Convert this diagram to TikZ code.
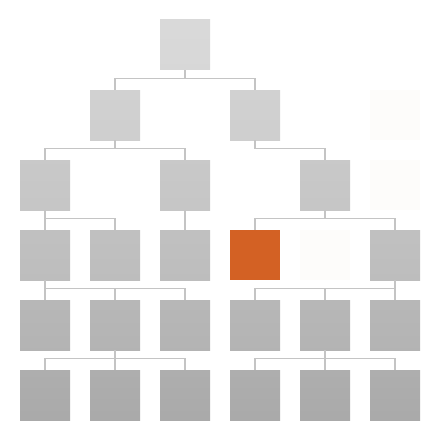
\documentclass[tikz,border=0pt]{standalone}
\usepackage{tikz}
\usetikzlibrary{positioning}
\definecolor{linegray}{RGB}{196,196,196}
\definecolor{grayA}{RGB}{214,214,214}
\definecolor{grayB}{RGB}{205,205,205}
\definecolor{grayC}{RGB}{196,196,196}
\definecolor{grayD}{RGB}{187,187,187}
\definecolor{grayE}{RGB}{177,177,177}
\definecolor{grayF}{RGB}{167,167,167}
\definecolor{ghostwhite}{RGB}{253,252,250}
\definecolor{pickorange}{RGB}{211,97,36}
\tikzset{
  box/.style={rectangle, minimum size=1.25cm, inner sep=0pt, draw=none},
  shadebox/.style={box, top color=#1!92, bottom color=#1!100!black!97},
  ghost/.style={box, fill=ghostwhite},
  link/.style={draw=linegray, line width=0.8pt}
}

\begin{document}
\begin{tikzpicture}
  \useasboundingbox (0,0) rectangle (11,-11);

  % Level 0
  \node[shadebox=grayA] (r0c2) at (4.625,-1.125) {};

  % Level 1
  \node[shadebox=grayB] (r1c1) at (2.875,-2.875) {};
  \node[shadebox=grayB] (r1c3) at (6.375,-2.875) {};
  \node[ghost] (r1c5) at (9.875,-2.875) {};

  % Level 2
  \node[shadebox=grayC] (r2c0) at (1.125,-4.625) {};
  \node[shadebox=grayC] (r2c2) at (4.625,-4.625) {};
  \node[shadebox=grayC] (r2c4) at (8.125,-4.625) {};
  \node[ghost] (r2c5) at (9.875,-4.625) {};

  % Level 3
  \node[shadebox=grayD] (r3c0) at (1.125,-6.375) {};
  \node[shadebox=grayD] (r3c1) at (2.875,-6.375) {};
  \node[shadebox=grayD] (r3c2) at (4.625,-6.375) {};
  \node[box, fill=pickorange] (r3c3) at (6.375,-6.375) {};
  \node[ghost] (r3c4) at (8.125,-6.375) {};
  \node[shadebox=grayD] (r3c5) at (9.875,-6.375) {};

  % Level 4 and 5
  \foreach \c in {0,...,5} {
    \node[shadebox=grayE] (r4c\c) at (1.125+1.75*\c,-8.125) {};
    \node[shadebox=grayF] (r5c\c) at (1.125+1.75*\c,-9.875) {};
  }

  % Connectors
  \foreach \p/\k in {r0c2/r1c1, r0c2/r1c3,
                     r1c1/r2c0, r1c1/r2c2, r1c3/r2c4,
                     r2c0/r3c0, r2c0/r3c1, r2c2/r3c2, r2c4/r3c3, r2c4/r3c5,
                     r3c0/r4c0, r3c0/r4c1, r3c0/r4c2,
                     r3c5/r4c3, r3c5/r4c4, r3c5/r4c5,
                     r4c1/r5c0, r4c1/r5c1, r4c1/r5c2,
                     r4c4/r5c3, r4c4/r5c4, r4c4/r5c5}
    \draw[link] (\p.south) -- ++(0,-0.2) -| (\k.north);
\end{tikzpicture}
\end{document}
